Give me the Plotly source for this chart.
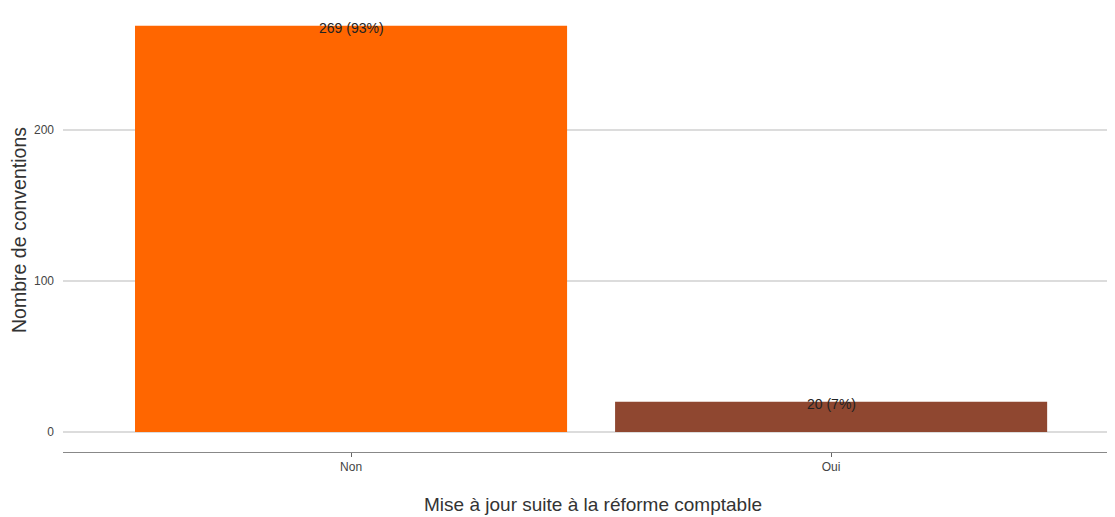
import plotly.graph_objects as go

categories = ["Non", "Oui"]
values = [269, 20]
labels = ["269 (93%)", "20 (7%)"]
colors = ["#FF6600", "#8F4730"]

fig = go.Figure()
fig.add_trace(go.Bar(
    x=categories, y=values, marker=dict(color=colors, line=dict(width=0)),
    width=0.9, showlegend=False, hoverinfo="x+y",
))
for c, v, t in zip(categories, values, labels):
    fig.add_annotation(x=c, y=v, text=t, showarrow=False, xanchor="center",
                       yanchor="middle", yshift=-2,
                       font=dict(family="Liberation Sans, Arial", size=14, color="#222222"))

fig.update_layout(
    width=1115, height=517,
    margin=dict(l=55, r=0, t=0, b=73),
    plot_bgcolor="white", paper_bgcolor="white",
    font=dict(family="Liberation Sans, Arial", color="#333333"),
    xaxis=dict(
        type="category", range=[-0.6, 1.608], showgrid=False, automargin=False,
        showline=True, linecolor="#888888", linewidth=1,
        ticks="outside", ticklen=4, tickcolor="#666666",
        tickfont=dict(size=12, color="#444444"),
        title=dict(text="Mise à jour suite à la réforme comptable",
                   font=dict(size=19, color="#333333"), standoff=24),
    ),
    yaxis=dict(
        range=[-13.25, 280.8], tickvals=[0, 100, 200], automargin=False,
        showgrid=True, gridcolor="#dcdcdc", gridwidth=2,
        zeroline=False, showline=False, ticks="", ticklabelstandoff=8,
        tickfont=dict(size=12, color="#444444"),
        title=dict(text="Nombre de conventions",
                   font=dict(size=19.5, color="#333333"), standoff=8),
    ),
    bargap=0.1,
)

fig.write_html("out.html")
